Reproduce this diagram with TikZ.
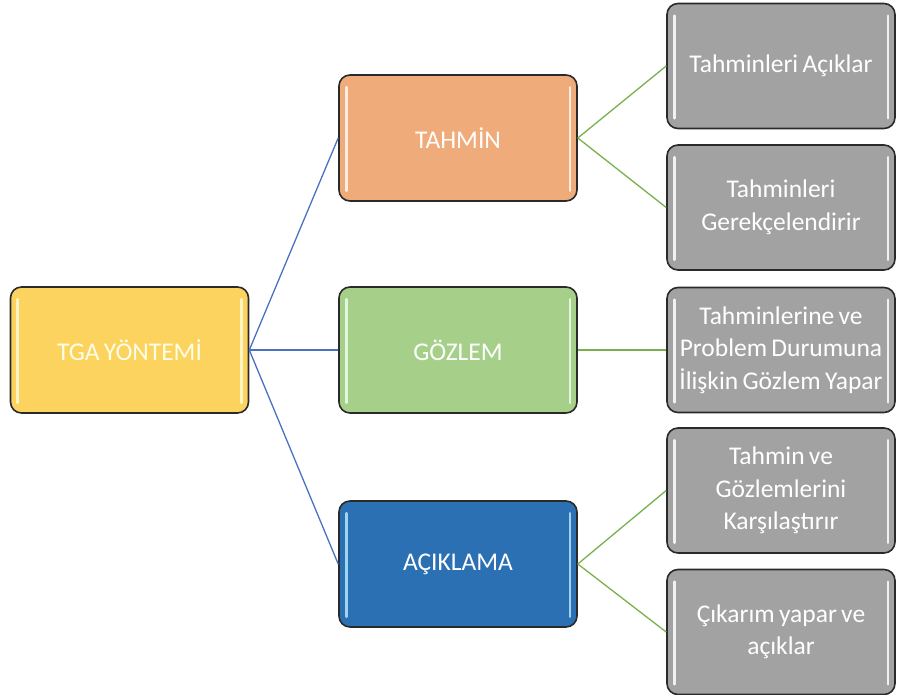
\documentclass[tikz,border=0pt]{standalone}
\usepackage{fontspec}
\setmainfont{Carlito}[WordSpace=0.75]
\usetikzlibrary{calc}
\definecolor{cyel}{HTML}{FDD35F}
\definecolor{cora}{HTML}{F0AB7A}
\definecolor{cgrn}{HTML}{A6D08A}
\definecolor{cblu}{HTML}{2C70B4}
\definecolor{cgry}{HTML}{A3A2A2}
\definecolor{cline}{HTML}{4A72C0}
\definecolor{cgline}{HTML}{79B04E}
\definecolor{cbord}{HTML}{2A2A2A}
\tikzset{
  box/.style={draw=cbord, line width=1.6pt, rounded corners=11pt, rectangle,
    align=center, font=\fontsize{25.5}{32.5}\selectfont, text=white, inner sep=1pt},
  topbox/.style={box, minimum width=238pt, minimum height=126pt},
  leafbox/.style={box, fill=cgry, minimum width=228pt, minimum height=125pt},
  blink/.style={draw=cline, line width=1.3pt},
  glink/.style={draw=cgline, line width=1.3pt},
  gloss/.style={draw=white, line width=2.6pt, line cap=round, opacity=0.85}
}
\begin{document}
\begin{tikzpicture}[x=1pt,y=-1pt]
\useasboundingbox (0,0) rectangle (897,695);
\node[topbox, fill=cyel, text=yellow!10] (root) at (129.5,350) {TGA YÖNTEMİ};
\node[topbox, fill=cora] (tah) at (458,138) {TAHMİN};
\node[topbox, fill=cgrn] (goz) at (458,350) {GÖZLEM};
\node[topbox, fill=cblu] (acik) at (458,564) {AÇIKLAMA};
\node[leafbox] (l1) at (781,66) {Tahminleri Açıklar};
\node[leafbox] (l2) at (781,207.5) {Tahminleri\\Gerekçelendirir};
\node[leafbox] (l3) at (781,350) {Tahminlerine ve\\Problem Durumuna\\İlişkin Gözlem Yapar};
\node[leafbox] (l4) at (781,490.5) {Tahmin ve\\Gözlemlerini\\Karşılaştırır};
\node[leafbox] (l5) at (781,632) {Çıkarım yapar ve\\açıklar};
\foreach \n/\c in {root/yellow!15, tah/orange!5, goz/green!8, acik/cyan!30, l1/white, l2/white, l3/white, l4/white, l5/white}{
  \draw[gloss, draw=\c] ($(\n.north west)+(8,13)$) -- ($(\n.south west)+(8,-11)$);
  \draw[gloss, draw=\c] ($(\n.north east)+(-8,13)$) -- ($(\n.south east)+(-8,-11)$);
}
\draw[blink] (root.east) -- (tah.west);
\draw[blink] (root.east) -- (goz.west);
\draw[blink] (root.east) -- (acik.west);
\draw[glink] (tah.east) -- (l1.west);
\draw[glink] (tah.east) -- (l2.west);
\draw[glink] (goz.east) -- (l3.west);
\draw[glink] (acik.east) -- (l4.west);
\draw[glink] (acik.east) -- (l5.west);
\end{tikzpicture}
\end{document}
